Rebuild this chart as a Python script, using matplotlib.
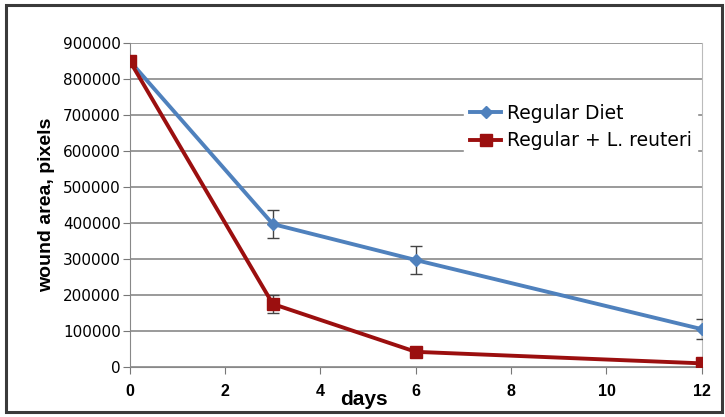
import numpy as np
import matplotlib
matplotlib.use('Agg')
import matplotlib.pyplot as plt
from matplotlib.patches import Rectangle
from matplotlib.lines import Line2D

plt.rcParams['font.family'] = ['Liberation Sans', 'DejaVu Sans']

# days of observation
days = [0, 3, 6, 12]

# wound area (pixels) per group
regularDiet = [850000, 397000, 297000, 105000]
regularDietErr = [0, 40000, 40000, 27000]
reuteriDiet = [850000, 175000, 42000, 10000]
reuteriDietErr = [0, 25000, 0, 0]

seriesLabels = ['Regular Diet', 'Regular + L. reuteri']
xTicks = [0, 2, 4, 6, 8, 10, 12]
yTicks = [0, 100000, 200000, 300000, 400000, 500000, 600000, 700000, 800000, 900000]

fig = plt.figure(figsize=(7.25, 4.17), dpi=100)
fig.patch.set_facecolor('white')
fig.patches.append(Rectangle((0.008, 0.012), 0.988, 0.976, transform=fig.transFigure,
                             fill=False, edgecolor='#3a3a3a', linewidth=2.2))

ax = fig.add_axes([0.179, 0.12, 0.789, 0.777])

blue = '#4f81bd'
red = '#9b0f0f'
ax.errorbar(days, regularDiet, yerr=regularDietErr, color=blue, lw=2.8,
            marker='D', markersize=6, ecolor='#444444', elinewidth=1, capsize=4,
            zorder=3)
ax.errorbar(days, reuteriDiet, yerr=reuteriDietErr, color=red, lw=2.8,
            marker='s', markersize=8, ecolor='#444444', elinewidth=1, capsize=4,
            zorder=4)

ax.set_xlim(0, 12)
ax.set_ylim(0, 900000)
ax.set_xticks(xTicks)
ax.set_yticks(yTicks)
ax.set_yticklabels([str(v) for v in yTicks], fontsize=11, family='DejaVu Sans')
ax.set_xticklabels([str(v) for v in xTicks], fontsize=11.5, fontweight='bold')
ax.tick_params(axis='both', direction='out', length=5, color='#777777', pad=1.5)
ax.tick_params(axis='x', pad=7)

ax.grid(axis='y', color='#7f7f7f', lw=1.1)
ax.set_axisbelow(True)
ax.spines['top'].set_visible(False)
ax.spines['left'].set_color('#888888')
ax.spines['bottom'].set_color('#888888')
ax.spines['right'].set_color('#bbbbbb')

ax.set_xlabel('days', fontsize=15, fontweight='bold')
ax.xaxis.set_label_coords(0.41, -0.071)
ax.set_ylabel('wound area, pixels', fontsize=14, fontweight='bold')
ax.yaxis.set_label_coords(-0.131, 0.5)

handles = [Line2D([], [], color=blue, lw=2.8, marker='D', markersize=6),
           Line2D([], [], color=red, lw=2.8, marker='s', markersize=8)]
leg = ax.legend(handles, seriesLabels, loc='upper left', bbox_to_anchor=(0.585, 0.83),
                frameon=True, prop={'family': 'DejaVu Sans', 'size': 13.5},
                handlelength=1.65, handletextpad=0.3, borderpad=0.3,
                borderaxespad=0, labelspacing=0.45)
leg.get_frame().set_edgecolor('white')
leg.get_frame().set_facecolor('white')
leg.get_frame().set_alpha(1)

fig.savefig('out.png', dpi=100)
